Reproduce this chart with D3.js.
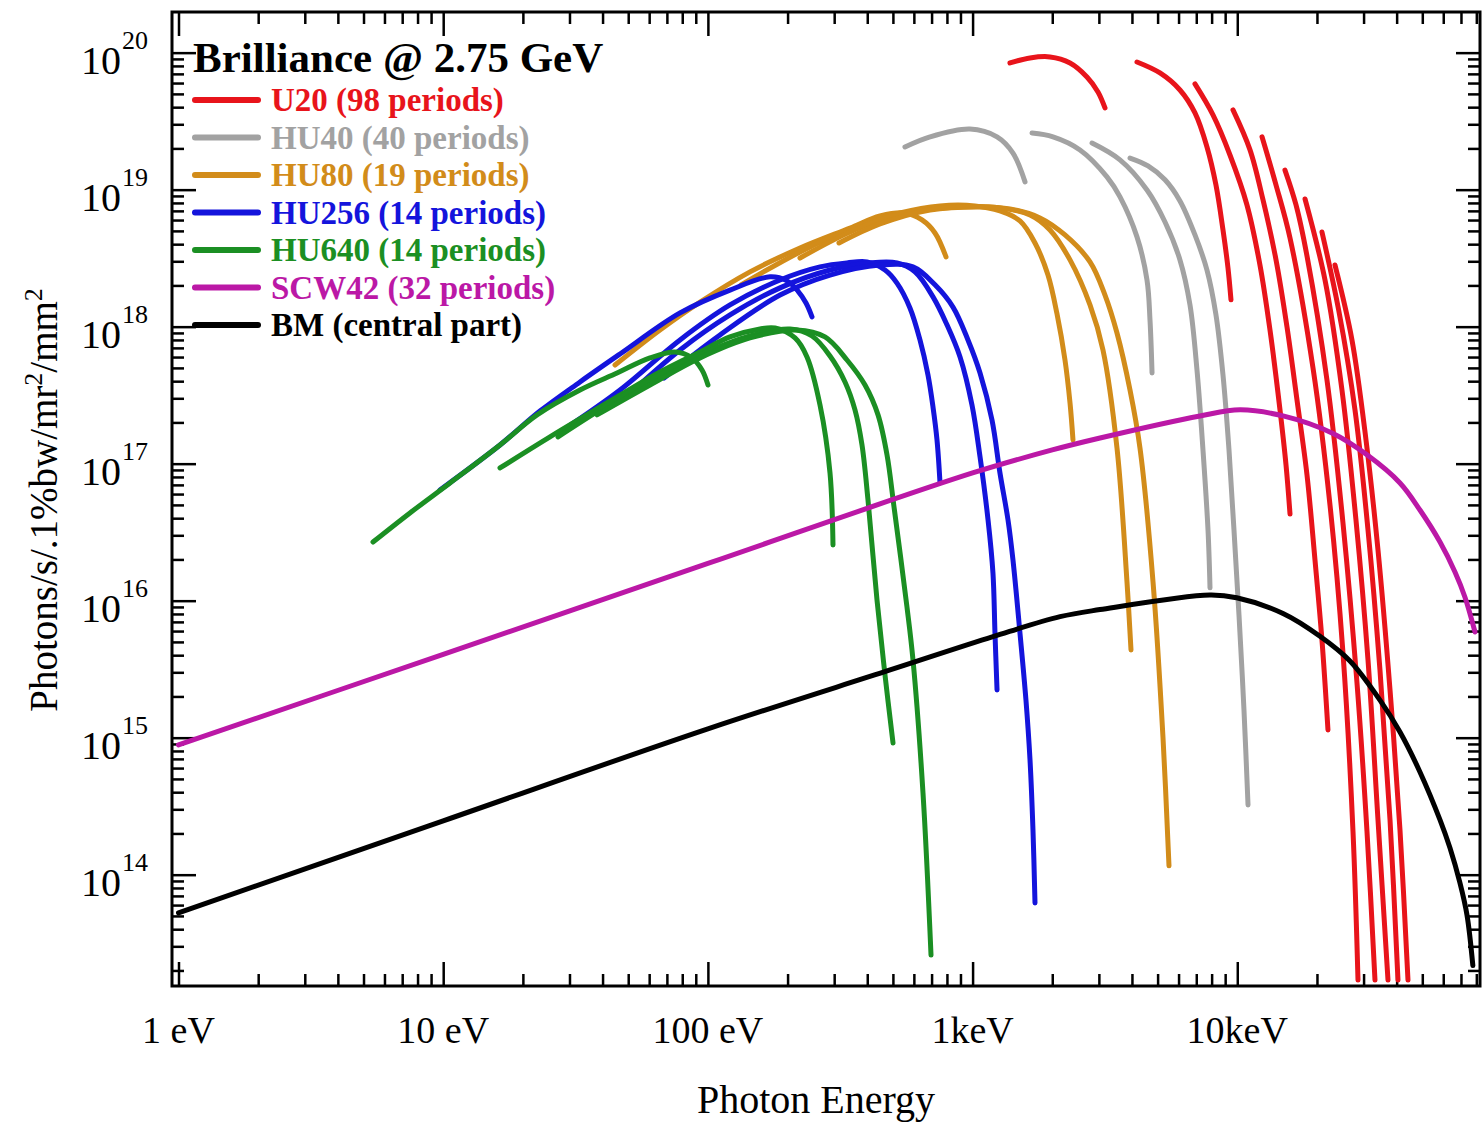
<!DOCTYPE html>
<html>
<head>
<meta charset="utf-8">
<script src="https://cdn.jsdelivr.net/npm/d3@7"></script>
<style>
body { margin: 0; background: #fff; }
svg { font-family: "Liberation Serif", "Times New Roman", serif; }
</style>
</head>
<body>
<div id="chart"></div>
<script>
// photon energy in eV, brilliance in photons/s/.1%bw/mr2/mm2
// each undulator is a list of harmonics (1, 3, 5, ...), each harmonic a list of [energy, brilliance]
var u20 = [
    [[1384, 8.41e19], [1648, 9.15e19], [1961, 9.31e19], [2334, 8.41e19], [2705, 6.65e19], [2977, 5.17e19], [3164, 3.95e19]],
    [[4179, 8.55e19], [5105, 7.11e19], [6074, 5.34e19], [6921, 3.63e19], [7683, 2.05e19], [8308, 1.08e19], [8831, 5.08e18], [9224, 2.68e18], [9466, 1.57e18]],
    [[6921, 5.91e19], [8094, 3.51e19], [9383, 1.79e19], [10880, 7.73e18], [12180, 2.82e18], [13290, 9.46e17], [14500, 2.47e17], [15280, 9.78e16], [15820, 4.29e16]],
    [[9634, 3.82e19], [11170, 1.95e19], [12510, 8.41e18], [14010, 3.07e18], [15410, 9.95e17], [16810, 2.92e17], [18340, 8.27e16], [19660, 1.98e16], [20890, 5.16e15], [22010, 1.14e15]],
    [[12400, 2.43e19], [14010, 1.08e19], [15820, 4.44e18], [19320, 5.00e17], [22400, 5.00e16], [25080, 4.15e15], [27360, 2.08e14], [28580, 1.7e13]],
    [[15140, 1.39e19], [16670, 7.73e18], [18340, 3.28e18], [21820, 4.08e17], [25080, 3.69e16], [28330, 2.51e15], [30900, 2.08e14], [33130, 1.7e13]],
    [[18030, 8.55e18], [21450, 2.19e18], [24860, 3.45e17], [28080, 3.88e16], [31180, 3.69e15], [34010, 2.51e14], [37100, 1.7e13]],
    [[20890, 4.91e18], [24160, 1.32e18], [27840, 2.47e17], [31180, 3.28e16], [34600, 3.12e15], [37760, 2.51e14], [40470, 1.7e13]],
    [[23390, 2.82e18], [27120, 8.00e17], [30640, 1.49e17], [34010, 2.34e16], [37760, 2.23e15], [41180, 2.12e14], [44150, 1.7e13]]
];

var hu40 = [
    [[555.3, 2.05e19], [690.5, 2.43e19], [977.7, 2.77e19], [1237, 2.43e19], [1421, 1.85e19], [1578, 1.14e19]],
    [[1677, 2.59e19], [2013, 2.43e19], [2546, 1.95e19], [3219, 1.24e19], [3605, 8.85e18], [4179, 4.52e18], [4560, 2.19e18], [4680, 1.12e18], [4764, 4.59e17]],
    [[2826, 2.19e19], [3605, 1.65e19], [4560, 9.95e18], [5333, 5.81e18], [6074, 3.07e18], [6627, 1.44e18], [7043, 4.83e17], [7420, 1.26e17], [7752, 3.28e16], [7888, 1.24e16]],
    [[3933, 1.70e19], [4600, 1.49e19], [5333, 1.18e19], [6074, 8.27e18], [6921, 4.67e18], [7683, 2.59e18], [8308, 1.22e18], [8831, 4.44e17], [9305, 1.26e17], [9717, 3.28e16], [10150, 7.86e15], [10600, 1.59e15], [10980, 3.23e14]]
];

var hu80 = [
    [[44.58, 5.25e17], [65.92, 9.46e17], [93.38, 1.51e18], [144.2, 2.51e18], [222.8, 3.75e18], [344.4, 5.25e18], [446.9, 6.43e18], [555.3, 6.76e18], [644.0, 6.01e18], [721.1, 4.83e18], [793.6, 3.23e18]],
    [[133.4, 2.02e18], [222.8, 3.51e18], [344.4, 5.17e18], [531.8, 6.76e18], [753.3, 7.61e18], [1021, 7.61e18], [1269, 6.99e18], [1510, 5.91e18], [1721, 4.08e18], [1927, 2.38e18], [2084, 1.24e18], [2234, 5.71e17], [2334, 2.77e17], [2395, 1.49e17]],
    [[222.8, 3.17e18], [344.4, 4.91e18], [531.8, 6.65e18], [896.6, 7.48e18], [1269, 7.36e18], [1648, 6.54e18], [1961, 5.08e18], [2334, 3.07e18], [2777, 1.44e18], [3109, 6.76e17], [3512, 1.30e17], [3831, 1.37e16], [3967, 4.37e15]],
    [[312.8, 4.08e18], [446.9, 5.62e18], [690.5, 7.11e18], [1067, 7.48e18], [1384, 7.23e18], [1797, 6.22e18], [2234, 4.67e18], [2777, 2.97e18], [3164, 1.70e18], [3512, 8.99e17], [3933, 3.45e17], [4290, 1.30e17], [4805, 1.37e16], [5241, 9.95e14], [5521, 1.16e14]]
];

var hu256 = [
    [[9.72, 6.43e16], [16.39, 1.37e17], [23.21, 2.42e17], [32.87, 3.95e17], [46.56, 6.32e17], [78.45, 1.26e18], [121.2, 1.85e18], [171.7, 2.31e18], [198.9, 2.16e18], [218.9, 1.82e18], [234.8, 1.49e18], [247.4, 1.18e18]],
    [[29.10, 1.82e17], [46.56, 3.45e17], [78.45, 8.00e17], [121.2, 1.44e18], [187.3, 2.19e18], [265.2, 2.73e18], [335.4, 2.92e18], [399.1, 2.97e18], [466.8, 2.59e18], [518.1, 2.08e18], [580.0, 1.37e18], [632.8, 8.00e17], [678.5, 4.44e17], [708.7, 2.59e17], [733.8, 1.49e17], [753.3, 7.23e16]],
    [[48.63, 3.02e17], [78.45, 6.76e17], [121.2, 1.22e18], [187.3, 1.92e18], [289.3, 2.59e18], [409.7, 2.92e18], [518.1, 2.92e18], [605.9, 2.51e18], [708.7, 1.65e18], [800.6, 1.03e18], [896.6, 6.01e17], [994.8, 2.68e17], [1067, 1.12e17], [1144, 3.88e16], [1194, 1.59e16], [1215, 5.81e15], [1237, 2.23e15]],
    [[68.28, 4.22e17], [111.1, 8.70e17], [187.3, 1.70e18], [289.3, 2.38e18], [446.9, 2.82e18], [595.5, 2.73e18], [721.1, 2.02e18], [843.3, 1.39e18], [960.7, 8.00e17], [1067, 4.59e17], [1184, 2.08e17], [1269, 8.55e16], [1361, 3.88e16], [1421, 1.98e16], [1510, 5.81e15], [1591, 1.88e15], [1648, 6.88e14], [1691, 2.12e14], [1721, 6.22e13]]
];

var hu640 = [
    [[5.43, 2.68e16], [7.49, 4.37e16], [10.61, 7.23e16], [16.39, 1.37e17], [22.62, 2.27e17], [32.87, 3.45e17], [45.36, 4.59e17], [60.43, 5.91e17], [75.09, 6.54e17], [87.10, 5.91e17], [95.01, 4.83e17], [100.1, 3.75e17]],
    [[16.39, 9.30e16], [25.32, 1.57e17], [45.36, 3.07e17], [65.92, 4.67e17], [93.38, 6.54e17], [121.2, 8.41e17], [157.3, 9.62e17], [179.3, 9.78e17], [213.4, 8.27e17], [236.8, 6.01e17], [265.2, 2.68e17], [289.3, 8.55e16], [296.9, 2.55e16]],
    [[27.15, 1.57e17], [39.12, 2.47e17], [60.43, 4.08e17], [93.38, 6.22e17], [144.2, 8.55e17], [204.3, 9.62e17], [247.4, 8.55e17], [289.3, 6.11e17], [329.6, 3.95e17], [359.5, 2.47e17], [382.1, 1.37e17], [402.6, 5.43e16], [435.4, 1.01e16], [466.8, 2.87e15], [500.5, 9.15e14]],
    [[38.11, 2.27e17], [60.43, 3.75e17], [93.38, 5.91e17], [144.2, 8.27e17], [217.1, 9.46e17], [277.0, 8.41e17], [335.4, 5.71e17], [392.3, 3.75e17], [439.3, 2.27e17], [475.0, 1.16e17], [504.9, 4.83e16], [565.1, 8.99e15], [595.5, 3.69e15], [649.6, 3.95e14], [696.6, 2.59e13]]
];

var scw42 = [[1, 8.85e14], [10, 4.06e15], [100, 1.87e16], [1000, 8.55e16], [2000, 1.26e17], [3030, 1.54e17], [7230, 2.23e17], [10240, 2.47e17], [14890, 2.23e17], [23000, 1.66e17], [30900, 1.16e17], [41180, 7.23e16], [48990, 4.59e16], [58330, 2.68e16], [66440, 1.62e16], [72480, 1.06e16], [79070, 5.91e15]];

var bm = [[1, 5.26e13], [10, 2.47e14], [100, 1.16e15], [488, 3.12e15], [1194, 5.46e15], [2140, 7.64e15], [3030, 8.61e15], [7880, 1.10e16], [9950, 1.05e16], [14890, 8.07e15], [20530, 5.50e15], [26650, 3.63e15], [34600, 1.88e15], [41180, 1.10e15], [48990, 5.62e14], [58330, 2.51e14], [63590, 1.57e14], [69380, 8.70e13], [73760, 5.08e13], [77620, 2.17e13]];

var seriesNames = ["U20 (98 periods)", "HU40 (40 periods)", "HU80 (19 periods)", "HU256 (14 periods)", "HU640 (14 periods)", "SCW42 (32 periods)", "BM (central part)"];
var seriesColors = ["#e8141b", "#a2a2a2", "#d28c1a", "#1414dc", "#1b8f23", "#bb18a6", "#000000"];
var seriesCurves = [u20, hu40, hu80, hu256, hu640, [scw42], [bm]];

var xMajor = [1, 10, 100, 1000, 10000];
var xLabels = ["1 eV", "10 eV", "100 eV", "1keV", "10keV"];
var yMajor = [1e14, 1e15, 1e16, 1e17, 1e18, 1e19, 1e20];
var yExponents = ["14", "15", "16", "17", "18", "19", "20"];

var margin = {top: 12, right: 3, bottom: 143, left: 172},
    width = 1483 - margin.left - margin.right,
    height = 1129 - margin.top - margin.bottom;

var svg = d3.select("#chart").append("svg")
    .attr("width", 1483)
    .attr("height", 1129);

var g = svg.append("g")
    .attr("transform", "translate(" + margin.left + "," + margin.top + ")");

var x = d3.scaleLog().domain([0.945, 82600]).range([0, width]);
var y = d3.scaleLog().domain([1.54e13, 1.98e20]).range([height, 0]);

// minor ticks 2..9 in every decade that falls inside the domain
function minorTicks(scale, majors) {
    var dom = scale.domain(), out = [];
    var decades = [majors[0] / 10].concat(majors);
    decades.forEach(function (d) {
        for (var k = 2; k <= 9; k++) {
            var v = k * d;
            if (v > dom[0] && v < dom[1]) out.push(v);
        }
    });
    return out;
}

var xMinor = minorTicks(x, xMajor);
var yMinor = minorTicks(y, yMajor);

function drawTicks(axis, values, size, transform) {
    var a = g.append("g")
        .attr("transform", transform)
        .call(axis.tickValues(values).tickSize(size).tickSizeOuter(0).tickFormat(""));
    a.select(".domain").remove();
    a.selectAll("line").attr("stroke", "#000").attr("stroke-width", 2.5);
}

drawTicks(d3.axisBottom(x), xMajor, -24, "translate(0," + height + ")");
drawTicks(d3.axisBottom(x), xMinor, -12, "translate(0," + height + ")");
drawTicks(d3.axisTop(x), xMajor, -24, "translate(0,0)");
drawTicks(d3.axisTop(x), xMinor, -12, "translate(0,0)");
drawTicks(d3.axisLeft(y), yMajor, -24, "translate(0,0)");
drawTicks(d3.axisLeft(y), yMinor, -12, "translate(0,0)");
drawTicks(d3.axisRight(y), yMajor, -24, "translate(" + width + ",0)");
drawTicks(d3.axisRight(y), yMinor, -12, "translate(" + width + ",0)");

// x tick labels
g.selectAll(".xlabel")
    .data(xMajor)
    .enter()
    .append("text")
    .attr("class", "xlabel")
    .attr("x", function (d) { return x(d); })
    .attr("y", height + 57)
    .attr("text-anchor", "middle")
    .style("font-size", "38px")
    .text(function (d, i) { return xLabels[i]; });

// y tick labels: 10 with exponent
var ylab = g.selectAll(".ylabel")
    .data(yMajor)
    .enter()
    .append("g")
    .attr("class", "ylabel")
    .attr("transform", function (d) { return "translate(0," + y(d) + ")"; });

ylab.append("text")
    .attr("x", -51)
    .attr("y", 21)
    .attr("text-anchor", "end")
    .style("font-size", "40px")
    .text("10");

ylab.append("text")
    .attr("x", -50)
    .attr("y", -4)
    .attr("text-anchor", "start")
    .style("font-size", "26px")
    .text(function (d, i) { return yExponents[i]; });

// curves
svg.append("defs").append("clipPath")
    .attr("id", "plotclip")
    .append("rect")
    .attr("width", width)
    .attr("height", height);

var line = d3.line()
    .x(function (d) { return x(d[0]); })
    .y(function (d) { return y(d[1]); })
    .curve(d3.curveCatmullRom.alpha(0.5));

var curves = g.append("g").attr("clip-path", "url(#plotclip)");

seriesCurves.forEach(function (harmonics, i) {
    curves.selectAll(".c" + i)
        .data(harmonics)
        .enter()
        .append("path")
        .attr("class", "c" + i)
        .attr("d", line)
        .attr("fill", "none")
        .attr("stroke", seriesColors[i])
        .attr("stroke-width", 5)
        .attr("stroke-linecap", "round")
        .attr("stroke-linejoin", "round");
});

// frame
g.append("rect")
    .attr("width", width)
    .attr("height", height)
    .attr("fill", "none")
    .attr("stroke", "#000")
    .attr("stroke-width", 3);

// title and legend
svg.append("text")
    .attr("x", 193)
    .attr("y", 72)
    .style("font-size", "43px")
    .style("font-weight", "bold")
    .text("Brilliance @ 2.75 GeV");

var legend = svg.selectAll(".legend")
    .data(seriesNames)
    .enter()
    .append("g")
    .attr("class", "legend")
    .attr("transform", function (d, i) { return "translate(195," + (100 + i * 37.5) + ")"; });

legend.append("line")
    .attr("x1", 0)
    .attr("x2", 63)
    .attr("stroke", function (d, i) { return seriesColors[i]; })
    .attr("stroke-width", 6)
    .attr("stroke-linecap", "round");

legend.append("text")
    .attr("x", 76)
    .attr("y", 11)
    .style("font-size", "33px")
    .style("font-weight", "bold")
    .attr("fill", function (d, i) { return seriesColors[i]; })
    .text(function (d) { return d; });

// axis titles
svg.append("text")
    .attr("x", 816)
    .attr("y", 1113)
    .attr("text-anchor", "middle")
    .style("font-size", "40px")
    .text("Photon Energy");

var yTitle = svg.append("text")
    .attr("transform", "translate(57,500) rotate(-90)")
    .attr("text-anchor", "middle")
    .style("font-size", "39px");
yTitle.append("tspan").text("Photons/s/.1%bw/mr");
yTitle.append("tspan").attr("dy", -15).style("font-size", "26px").text("2");
yTitle.append("tspan").attr("dy", 15).text("/mm");
yTitle.append("tspan").attr("dy", -15).style("font-size", "26px").text("2");
</script>
</body>
</html>
